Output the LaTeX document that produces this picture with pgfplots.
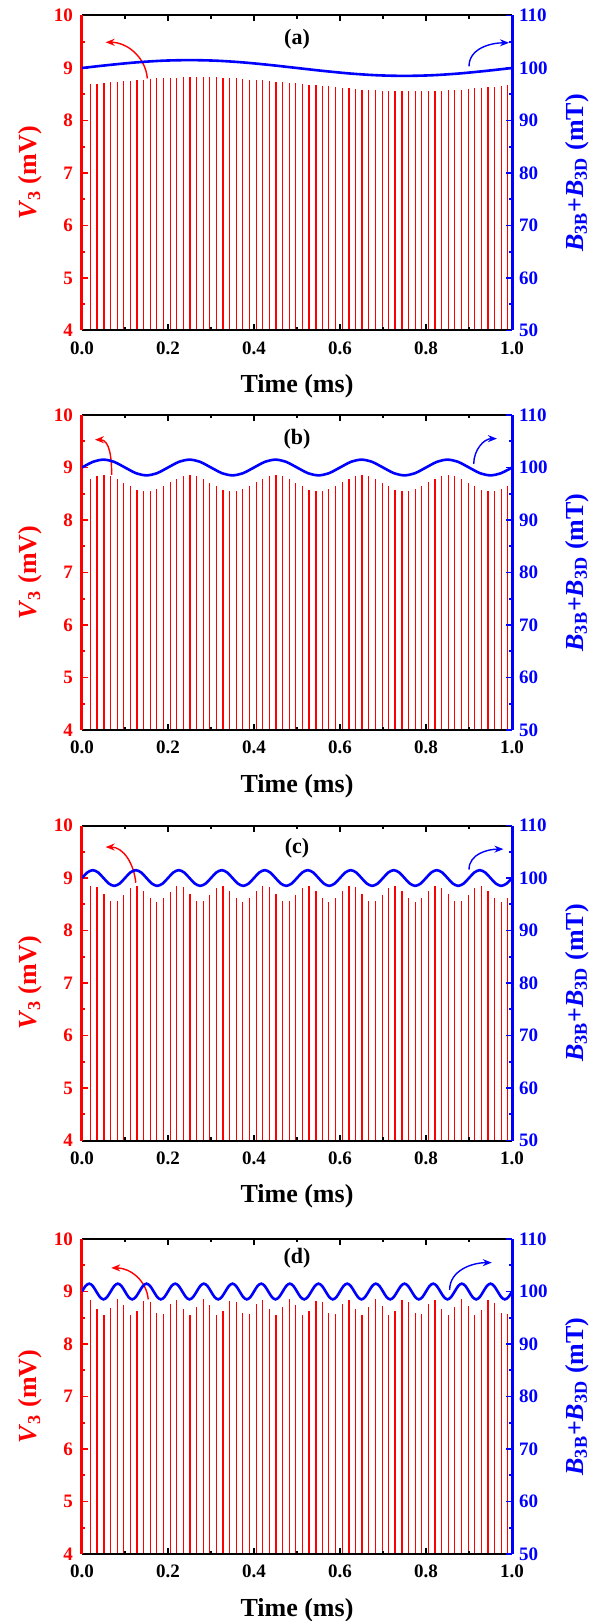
\documentclass[border=0pt]{standalone}
\usepackage{fontspec}
\setmainfont{Liberation Serif}
\usepackage{pgfplots}
\usepackage{pgfplotstable}
\pgfplotsset{compat=1.18}
\usetikzlibrary{arrows.meta}

% spike peaks of V3 (mV) for the four drives (a)-(d)
\pgfplotstableread{
t     a    b    c    d
0.002 9.85 9.85 9.85 9.85
0.020 8.69 8.79 8.84 8.84
0.035 8.70 8.83 8.82 8.67
0.051 8.72 8.85 8.69 8.55
0.066 8.73 8.83 8.57 8.69
0.082 8.74 8.78 8.56 8.85
0.097 8.75 8.71 8.67 8.74
0.112 8.76 8.64 8.81 8.56
0.128 8.77 8.58 8.85 8.63
0.143 8.78 8.55 8.76 8.82
0.159 8.79 8.56 8.62 8.80
0.174 8.80 8.59 8.55 8.60
0.189 8.80 8.65 8.61 8.57
0.205 8.81 8.72 8.74 8.77
0.220 8.81 8.79 8.84 8.84
0.236 8.82 8.83 8.82 8.67
0.251 8.82 8.85 8.69 8.55
0.266 8.82 8.83 8.57 8.70
0.282 8.82 8.78 8.56 8.85
0.297 8.82 8.71 8.67 8.74
0.313 8.82 8.64 8.81 8.56
0.328 8.81 8.58 8.85 8.63
0.343 8.81 8.55 8.76 8.82
0.359 8.80 8.56 8.62 8.80
0.374 8.79 8.59 8.55 8.60
0.390 8.78 8.65 8.61 8.58
0.405 8.78 8.72 8.75 8.77
0.420 8.77 8.79 8.84 8.84
0.436 8.76 8.84 8.82 8.67
0.451 8.74 8.85 8.69 8.55
0.467 8.73 8.83 8.57 8.70
0.482 8.72 8.78 8.56 8.85
0.497 8.71 8.71 8.68 8.74
0.513 8.70 8.64 8.81 8.56
0.528 8.68 8.58 8.85 8.63
0.544 8.67 8.55 8.76 8.82
0.559 8.66 8.56 8.62 8.80
0.574 8.65 8.59 8.55 8.60
0.590 8.63 8.65 8.61 8.58
0.605 8.62 8.72 8.75 8.77
0.621 8.61 8.79 8.84 8.84
0.636 8.60 8.84 8.82 8.66
0.651 8.59 8.85 8.69 8.55
0.667 8.59 8.83 8.57 8.70
0.682 8.58 8.78 8.57 8.85
0.698 8.57 8.71 8.68 8.73
0.713 8.57 8.64 8.81 8.56
0.728 8.56 8.58 8.85 8.63
0.744 8.56 8.55 8.76 8.83
0.759 8.56 8.56 8.62 8.80
0.775 8.56 8.59 8.55 8.60
0.790 8.56 8.65 8.61 8.58
0.805 8.56 8.73 8.75 8.77
0.821 8.57 8.79 8.84 8.84
0.836 8.57 8.84 8.81 8.66
0.852 8.58 8.85 8.69 8.55
0.867 8.58 8.83 8.57 8.70
0.882 8.59 8.78 8.57 8.85
0.898 8.60 8.71 8.68 8.73
0.913 8.61 8.64 8.81 8.56
0.929 8.62 8.58 8.85 8.64
0.944 8.63 8.55 8.76 8.83
0.959 8.64 8.56 8.62 8.79
0.975 8.65 8.59 8.55 8.60
0.990 8.67 8.65 8.61 8.58
}\spikes

\pgfplotsset{
  vleft/.style={
    scale only axis, width=215pt, height=157.5pt, anchor=north west,
    xmin=0, xmax=1, ymin=4, ymax=10,
    axis x line*=box, axis y line*=left, axis on top,
    tick align=inside,
    xtick={0,0.2,0.4,0.6,0.8,1}, ytick={4,5,6,7,8,9,10},
    minor x tick num=1, minor y tick num=1,
    major tick length=3pt, minor tick length=1.6pt,
    x axis line style={black, line width=1pt},
    y axis line style={red, line width=1.5pt},
    xtick style={black, line width=0.9pt},
    ytick style={red, line width=0.9pt},
    /pgf/number format/assume math mode=true,
    ticklabel style={font=\bfseries\fontsize{9.5}{11}\selectfont},
    xticklabel style={yshift=-2pt, /pgf/number format/.cd, fixed, fixed zerofill, precision=1},
    yticklabel style={red, xshift=-1pt},
    xlabel={Time (ms)},
    xlabel style={font=\bfseries\fontsize{13}{15}\selectfont,
      at={(axis description cs:0.5,-0.178)}, anchor=center},
    ylabel={\textit{V}\textsubscript{3} (mV)},
    ylabel style={font=\bfseries\fontsize{13}{15}\selectfont, red,
      at={(axis description cs:-0.121,0.5)}, anchor=center},
  },
  bright/.style={
    scale only axis, width=215pt, height=157.5pt, anchor=north west,
    xmin=0, xmax=1, ymin=50, ymax=110,
    axis x line=none, axis y line*=right,
    tick align=inside,
    ytick={50,60,70,80,90,100,110}, minor y tick num=1,
    major tick length=3pt, minor tick length=1.6pt,
    y axis line style={blue, line width=1.5pt},
    ytick style={blue, line width=0.9pt},
    /pgf/number format/assume math mode=true,
    yticklabel style={blue, font=\bfseries\fontsize{9.5}{11}\selectfont},
    ylabel={\textit{B}\textsubscript{3B}+\textit{B}\textsubscript{3D} (mT)},
    ylabel style={font=\bfseries\fontsize{13}{15}\selectfont, blue,
      at={(axis description cs:1.151,0.5)}, anchor=center},
  },
  spk/.style={ycomb, red, line width=0.6pt, mark=none},
  fld/.style={blue, line width=1.3pt, smooth, mark=none},
}
\tikzset{
  redarr/.style={red, line width=0.7pt, -{Stealth[length=4.5pt,width=3.5pt]}},
  bluarr/.style={blue, line width=0.7pt, -{Stealth[length=4.5pt,width=3.5pt]}},
  plab/.style={font=\bfseries\fontsize{11}{13}\selectfont},
}

\begin{document}
\begin{tikzpicture}
% ---------------- (a)
\begin{axis}[vleft, at={(0pt,0pt)}]
  \addplot[spk] table[x=t,y=a] {\spikes};
  \draw[redarr] (axis cs:0.152,8.80) to[out=95,in=0] (axis cs:0.055,9.49);
  \node[plab] at (axis cs:0.5,9.54) {(a)};
\end{axis}
\begin{axis}[bright, at={(0pt,0pt)}]
  \addplot[fld] coordinates {(0,100)(0.0625,100.57)(0.125,101.06)(0.1875,101.39)(0.25,101.5)(0.3125,101.39)(0.375,101.06)(0.4375,100.57)(0.5,100)(0.5625,99.43)(0.625,98.94)(0.6875,98.61)(0.75,98.5)(0.8125,98.61)(0.875,98.94)(0.9375,99.43)(1,100)};
  \draw[bluarr] (axis cs:0.90,100.3) to[out=90,in=180] (axis cs:0.993,104.8);
\end{axis}

% ---------------- (b)
\begin{axis}[vleft, at={(0pt,-199.75pt)}]
  \addplot[spk] table[x=t,y=b] {\spikes};
  \draw[redarr] (axis cs:0.069,8.86) to[out=90,in=0] (axis cs:0.03,9.53);
  \node[plab] at (axis cs:0.5,9.53) {(b)};
\end{axis}
\begin{axis}[bright, at={(0pt,-199.75pt)}]
  \addplot[fld] coordinates {(0,100)(0.025,101.06)(0.05,101.5)(0.075,101.06)(0.1,100)(0.125,98.94)(0.15,98.5)(0.175,98.94)
    (0.2,100)(0.225,101.06)(0.25,101.5)(0.275,101.06)(0.3,100)(0.325,98.94)(0.35,98.5)(0.375,98.94)
    (0.4,100)(0.425,101.06)(0.45,101.5)(0.475,101.06)(0.5,100)(0.525,98.94)(0.55,98.5)(0.575,98.94)
    (0.6,100)(0.625,101.06)(0.65,101.5)(0.675,101.06)(0.7,100)(0.725,98.94)(0.75,98.5)(0.775,98.94)
    (0.8,100)(0.825,101.06)(0.85,101.5)(0.875,101.06)(0.9,100)(0.925,98.94)(0.95,98.5)(0.975,98.94)(1,100)};
  \draw[bluarr] (axis cs:0.911,100.7) to[out=90,in=180] (axis cs:0.965,105.5);
\end{axis}

% ---------------- (c)
\begin{axis}[vleft, at={(0pt,-405pt)}]
  \addplot[spk] table[x=t,y=c] {\spikes};
  \draw[redarr] (axis cs:0.125,8.91) to[out=95,in=0] (axis cs:0.055,9.59);
  \node[plab] at (axis cs:0.5,9.57) {(c)};
\end{axis}
\begin{axis}[bright, at={(0pt,-405pt)}]
  \addplot[fld] coordinates {(0,100)(0.0125,101.06)(0.025,101.5)(0.0375,101.06)(0.05,100)(0.0625,98.94)(0.075,98.5)(0.0875,98.94)
    (0.1,100)(0.1125,101.06)(0.125,101.5)(0.1375,101.06)(0.15,100)(0.1625,98.94)(0.175,98.5)(0.1875,98.94)
    (0.2,100)(0.2125,101.06)(0.225,101.5)(0.2375,101.06)(0.25,100)(0.2625,98.94)(0.275,98.5)(0.2875,98.94)
    (0.3,100)(0.3125,101.06)(0.325,101.5)(0.3375,101.06)(0.35,100)(0.3625,98.94)(0.375,98.5)(0.3875,98.94)
    (0.4,100)(0.4125,101.06)(0.425,101.5)(0.4375,101.06)(0.45,100)(0.4625,98.94)(0.475,98.5)(0.4875,98.94)
    (0.5,100)(0.5125,101.06)(0.525,101.5)(0.5375,101.06)(0.55,100)(0.5625,98.94)(0.575,98.5)(0.5875,98.94)
    (0.6,100)(0.6125,101.06)(0.625,101.5)(0.6375,101.06)(0.65,100)(0.6625,98.94)(0.675,98.5)(0.6875,98.94)
    (0.7,100)(0.7125,101.06)(0.725,101.5)(0.7375,101.06)(0.75,100)(0.7625,98.94)(0.775,98.5)(0.7875,98.94)
    (0.8,100)(0.8125,101.06)(0.825,101.5)(0.8375,101.06)(0.85,100)(0.8625,98.94)(0.875,98.5)(0.8875,98.94)
    (0.9,100)(0.9125,101.06)(0.925,101.5)(0.9375,101.06)(0.95,100)(0.9625,98.94)(0.975,98.5)(0.9875,98.94)(1,100)};
  \draw[bluarr] (axis cs:0.90,101.6) to[out=90,in=180] (axis cs:0.98,105.5);
\end{axis}

% ---------------- (d)
\begin{axis}[vleft, at={(0pt,-611.75pt)}]
  \addplot[spk] table[x=t,y=d] {\spikes};
  \draw[redarr] (axis cs:0.154,8.85) to[out=95,in=0] (axis cs:0.068,9.45);
  \node[plab] at (axis cs:0.5,9.63) {(d)};
\end{axis}
\begin{axis}[bright, at={(0pt,-611.75pt)}]
  \addplot[fld] coordinates {(0,100)(0.0083,101.06)(0.0167,101.5)(0.025,101.06)(0.0333,100)(0.0417,98.94)(0.05,98.5)(0.0583,98.94)
    (0.0667,100)(0.075,101.06)(0.0833,101.5)(0.0917,101.06)(0.1,100)(0.1083,98.94)(0.1167,98.5)(0.125,98.94)
    (0.1333,100)(0.1417,101.06)(0.15,101.5)(0.1583,101.06)(0.1667,100)(0.175,98.94)(0.1833,98.5)(0.1917,98.94)
    (0.2,100)(0.2083,101.06)(0.2167,101.5)(0.225,101.06)(0.2333,100)(0.2417,98.94)(0.25,98.5)(0.2583,98.94)
    (0.2667,100)(0.275,101.06)(0.2833,101.5)(0.2917,101.06)(0.3,100)(0.3083,98.94)(0.3167,98.5)(0.325,98.94)
    (0.3333,100)(0.3417,101.06)(0.35,101.5)(0.3583,101.06)(0.3667,100)(0.375,98.94)(0.3833,98.5)(0.3917,98.94)
    (0.4,100)(0.4083,101.06)(0.4167,101.5)(0.425,101.06)(0.4333,100)(0.4417,98.94)(0.45,98.5)(0.4583,98.94)
    (0.4667,100)(0.475,101.06)(0.4833,101.5)(0.4917,101.06)(0.5,100)(0.5083,98.94)(0.5167,98.5)(0.525,98.94)
    (0.5333,100)(0.5417,101.06)(0.55,101.5)(0.5583,101.06)(0.5667,100)(0.575,98.94)(0.5833,98.5)(0.5917,98.94)
    (0.6,100)(0.6083,101.06)(0.6167,101.5)(0.625,101.06)(0.6333,100)(0.6417,98.94)(0.65,98.5)(0.6583,98.94)
    (0.6667,100)(0.675,101.06)(0.6833,101.5)(0.6917,101.06)(0.7,100)(0.7083,98.94)(0.7167,98.5)(0.725,98.94)
    (0.7333,100)(0.7417,101.06)(0.75,101.5)(0.7583,101.06)(0.7667,100)(0.775,98.94)(0.7833,98.5)(0.7917,98.94)
    (0.8,100)(0.8083,101.06)(0.8167,101.5)(0.825,101.06)(0.8333,100)(0.8417,98.94)(0.85,98.5)(0.8583,98.94)
    (0.8667,100)(0.875,101.06)(0.8833,101.5)(0.8917,101.06)(0.9,100)(0.9083,98.94)(0.9167,98.5)(0.925,98.94)
    (0.9333,100)(0.9417,101.06)(0.95,101.5)(0.9583,101.06)(0.9667,100)(0.975,98.94)(0.9833,98.5)(0.9917,98.94)(1,100)};
  \draw[bluarr] (axis cs:0.855,100.3) to[out=90,in=180] (axis cs:0.953,105.5);
\end{axis}

\pgfresetboundingbox
\path[use as bounding box] (-41pt,7.75pt) rectangle (259pt,-802.75pt);
\end{tikzpicture}
\end{document}
